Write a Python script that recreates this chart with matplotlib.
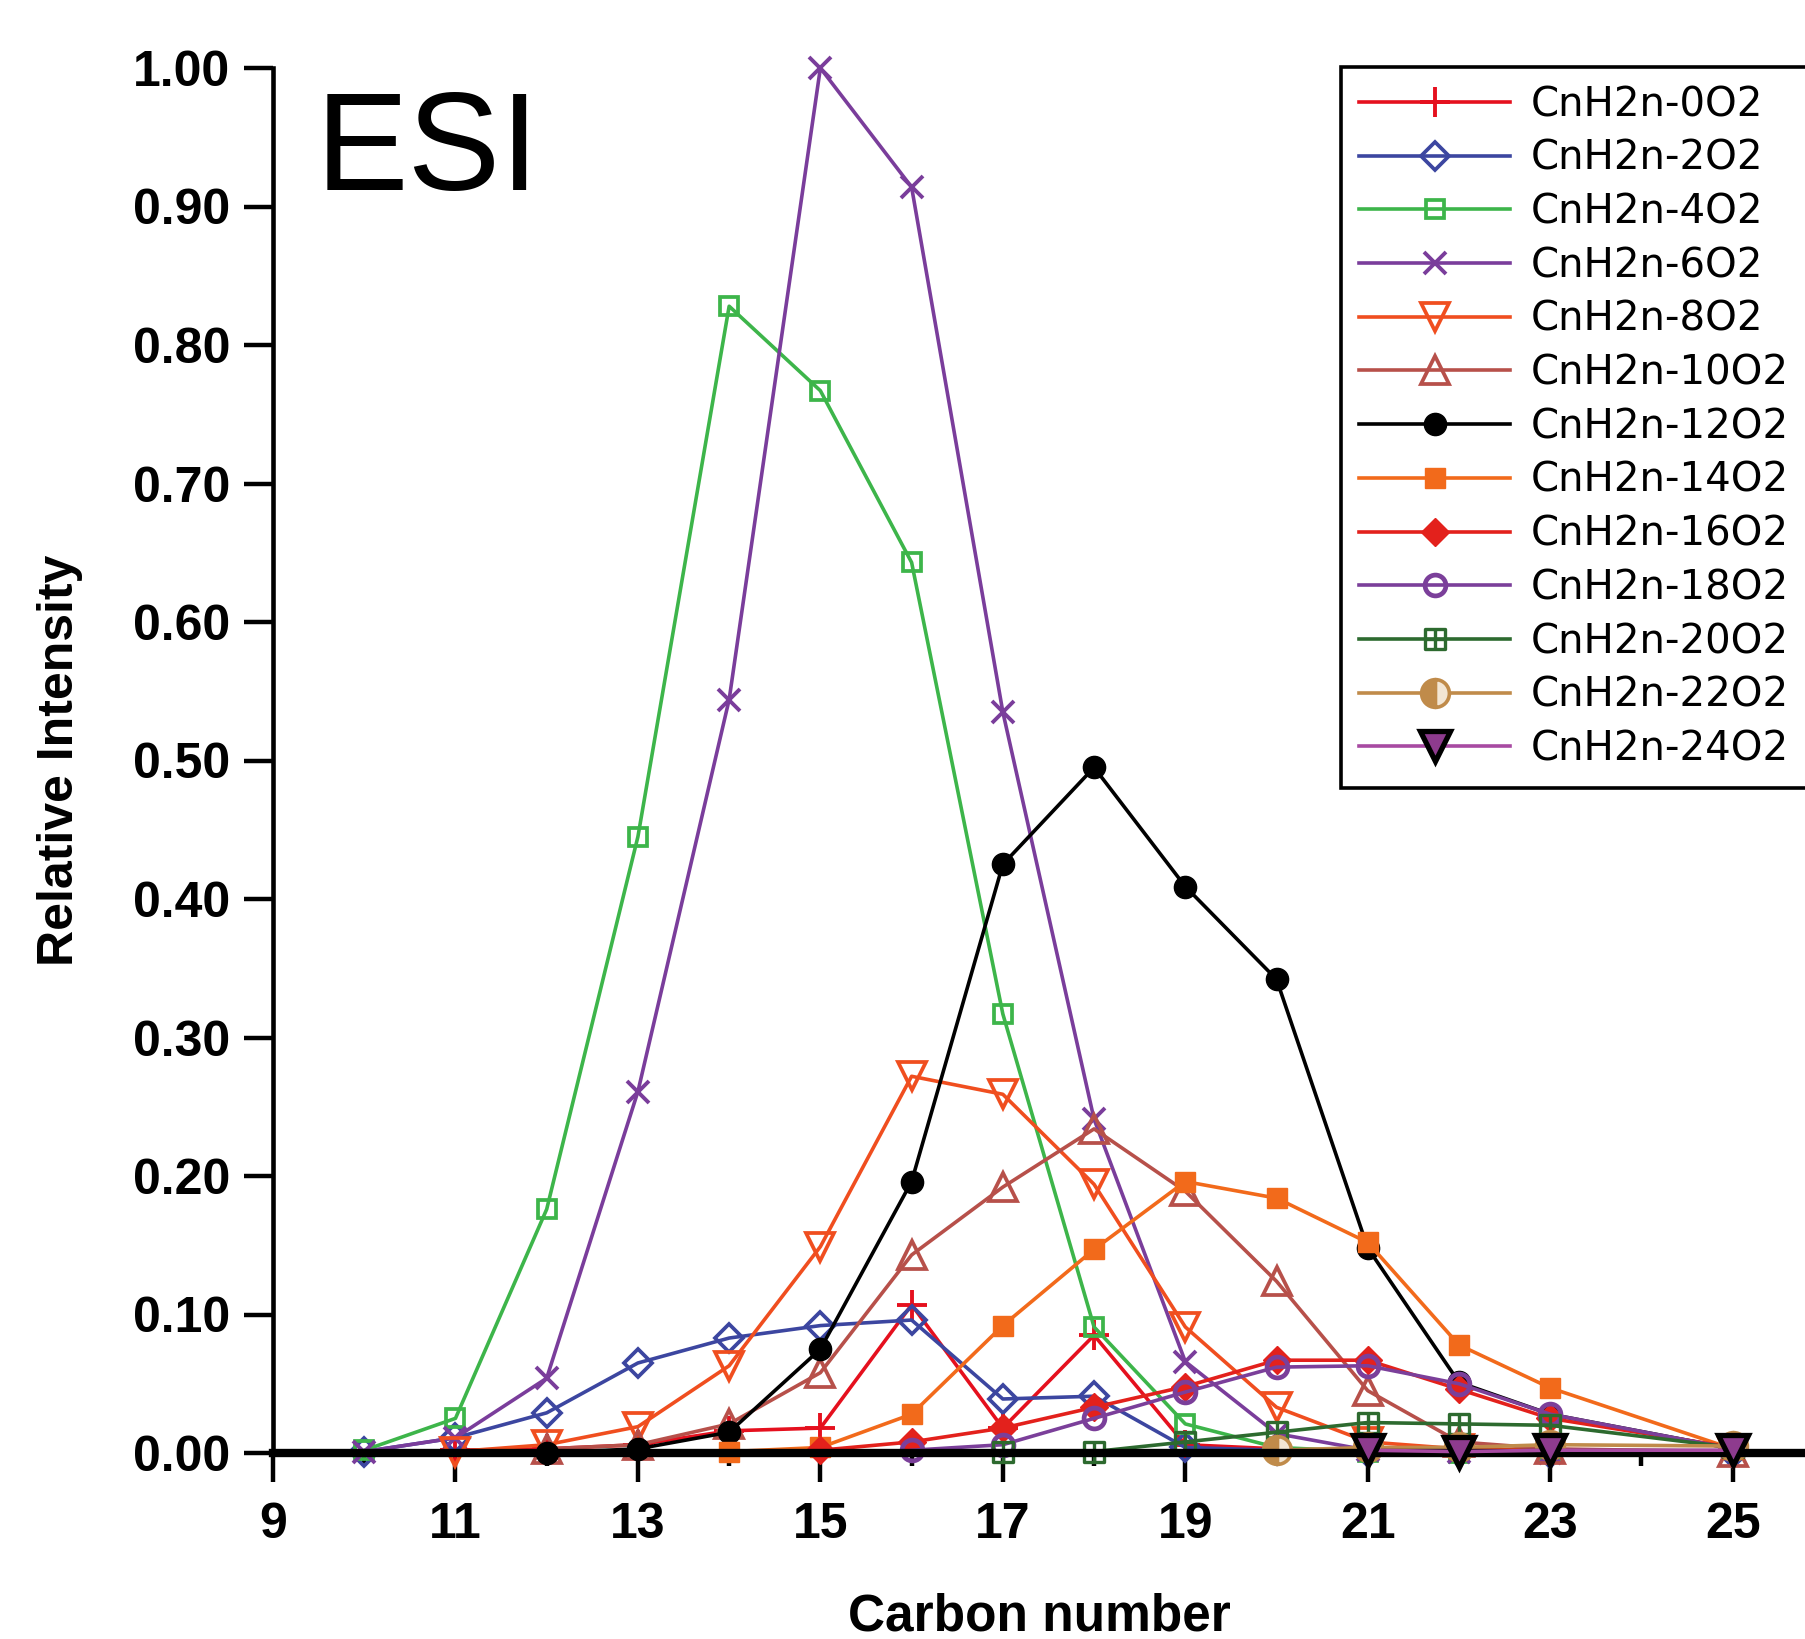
import numpy as np
import matplotlib
matplotlib.use("Agg")
import matplotlib.pyplot as plt
from matplotlib.path import Path

# ── Data ──────────────────────────────────────────────────────────────────────
SERIES_NAMES = [
    "CnH2n-0O2", "CnH2n-2O2", "CnH2n-4O2", "CnH2n-6O2", "CnH2n-8O2",
    "CnH2n-10O2", "CnH2n-12O2", "CnH2n-14O2", "CnH2n-16O2", "CnH2n-18O2",
    "CnH2n-20O2", "CnH2n-22O2", "CnH2n-24O2",
]

x_0 = [11, 12, 13, 14, 15, 16, 17, 18, 19, 20, 21, 22, 23, 25]
y_0 = [0.002, 0.003, 0.006, 0.016, 0.018, 0.107, 0.018, 0.085, 0.006, 0.003,
       0.002, 0.001, 0.001, 0.001]

x_2 = [10, 11, 12, 13, 14, 15, 16, 17, 18, 19, 20, 21, 22, 23, 25]
y_2 = [0.001, 0.011, 0.029, 0.065, 0.083, 0.092, 0.096, 0.039, 0.041, 0.004,
       0.002, 0.001, 0.001, 0.0, 0.0]

x_4 = [10, 11, 12, 13, 14, 15, 16, 17, 18, 19, 20, 21, 22, 23]
y_4 = [0.002, 0.025, 0.176, 0.445, 0.828, 0.767, 0.643, 0.317, 0.091, 0.021,
       0.004, 0.001, 0.0, 0.0]

x_6 = [10, 11, 12, 13, 14, 15, 16, 17, 18, 19, 20, 21, 22, 23]
y_6 = [0.001, 0.011, 0.054, 0.261, 0.544, 1.0, 0.914, 0.535, 0.241, 0.066,
       0.014, 0.002, 0.001, 0.0]

x_8 = [11, 12, 13, 14, 15, 16, 17, 18, 19, 20, 21, 22, 23, 25]
y_8 = [0.001, 0.006, 0.019, 0.063, 0.149, 0.272, 0.259, 0.194, 0.091, 0.033,
       0.008, 0.003, 0.002, 0.001]

x_10 = [12, 13, 14, 15, 16, 17, 18, 19, 20, 21, 22, 23, 25]
y_10 = [0.003, 0.006, 0.021, 0.058, 0.143, 0.192, 0.234, 0.189, 0.124, 0.045,
        0.008, 0.003, 0.001]

x_12 = [12, 13, 14, 15, 16, 17, 18, 19, 20, 21, 22, 23, 25]
y_12 = [0.0, 0.003, 0.015, 0.075, 0.196, 0.425, 0.495, 0.409, 0.342, 0.148,
        0.051, 0.028, 0.003]

x_14 = [14, 15, 16, 17, 18, 19, 20, 21, 22, 23, 25]
y_14 = [0.001, 0.004, 0.028, 0.092, 0.147, 0.196, 0.184, 0.152, 0.078, 0.047,
        0.003]

x_16 = [15, 16, 17, 18, 19, 20, 21, 22, 23, 25]
y_16 = [0.002, 0.008, 0.018, 0.033, 0.048, 0.067, 0.067, 0.046, 0.025, 0.004]

x_18 = [16, 17, 18, 19, 20, 21, 22, 23, 25]
y_18 = [0.002, 0.006, 0.025, 0.044, 0.062, 0.063, 0.050, 0.028, 0.003]

x_20 = [17, 18, 19, 20, 21, 22, 23, 25]
y_20 = [0.001, 0.001, 0.008, 0.015, 0.022, 0.021, 0.020, 0.004]

x_22 = [20, 21, 22, 23, 25]
y_22 = [0.002, 0.004, 0.004, 0.006, 0.005]

x_24 = [21, 22, 23, 25]
y_24 = [0.002, 0.001, 0.002, 0.002]

X_MAJOR = [9, 11, 13, 15, 17, 19, 21, 23, 25]
X_MINOR = [10, 12, 14, 16, 18, 20, 22, 24]
Y_TICKS = [0.0, 0.1, 0.2, 0.3, 0.4, 0.5, 0.6, 0.7, 0.8, 0.9, 1.0]

# ── Styles ────────────────────────────────────────────────────────────────────
# square with a cross inside (20O2 marker)
SQ_PLUS = Path(
    [(-1, -1), (1, -1), (1, 1), (-1, 1), (-1, -1),
     (0, -1), (0, 1), (-1, 0), (1, 0)],
    [Path.MOVETO, Path.LINETO, Path.LINETO, Path.LINETO, Path.CLOSEPOLY,
     Path.MOVETO, Path.LINETO, Path.MOVETO, Path.LINETO],
)

STYLES = [
    dict(color="#e5101e", marker="+", ms=21, mew=2.8),
    dict(color="#3c46a0", marker="D", ms=14, mfc="none", mew=2.7),
    dict(color="#3db54a", marker="s", ms=13, mfc="none", mew=2.7),
    dict(color="#7a3d9b", marker="x", ms=16, mew=2.8),
    dict(color="#f04e1f", marker="v", ms=20, mfc="none", mew=2.7),
    dict(color="#b7504a", marker="^", ms=20, mfc="none", mew=2.7),
    dict(color="#000000", marker="o", ms=16),
    dict(color="#f26a1b", marker="s", ms=14),
    dict(color="#e3211c", marker="D", ms=14),
    dict(color="#7b3f9a", marker="o", ms=15, mfc="none", mew=3.4),
    dict(color="#2d6a2f", marker=SQ_PLUS, ms=14, mfc="none", mew=2.4),
    dict(color="#c08b4a", marker="o", ms=20, fillstyle="left",
         mfc="#c08b4a", mfcalt="#f3e6d4", mew=2.6),
    dict(color="#a84aa2", marker="v", ms=21, mfc="#8e3b8e", mec="black",
         mew=3.8),
]

XS = [x_0, x_2, x_4, x_6, x_8, x_10, x_12, x_14, x_16, x_18, x_20, x_22, x_24]
YS = [y_0, y_2, y_4, y_6, y_8, y_10, y_12, y_14, y_16, y_18, y_20, y_22, y_24]

FONT = "Liberation Sans"


def main():
    W, H = 1805, 1639
    fig = plt.figure(figsize=(W / 100, H / 100), dpi=100)
    fig.patch.set_facecolor("white")

    left_px, right_px = 273, W
    top_px, zero_px = 68, 1453
    unit_px = 91.23
    ax = fig.add_axes([left_px / W, 1 - zero_px / H,
                       (right_px - left_px) / W, (zero_px - top_px) / H])

    for name, xs, ys, st in zip(SERIES_NAMES, XS, YS, STYLES):
        st = dict(st)
        color = st.pop("color")
        z = 3.2 if name.endswith("24O2") else 2
        ax.plot(xs, ys, color=color, lw=2.6, label=name, clip_on=False,
                zorder=z, **st)

    ax.set_xlim(9, 9 + (right_px - left_px) / unit_px)
    ax.set_ylim(0, 1.0)

    ax.spines["top"].set_visible(False)
    ax.spines["right"].set_visible(False)
    ax.spines["left"].set_linewidth(3.3)
    ax.spines["bottom"].set_linewidth(6)
    ax.spines["bottom"].set_zorder(3)
    ax.spines["left"].set_zorder(3)

    ax.set_xticks(X_MAJOR)
    ax.set_xticks(X_MINOR, minor=True)
    ax.set_yticks(Y_TICKS)
    ax.set_yticklabels([f"{v:.2f}" for v in Y_TICKS])
    ax.tick_params(axis="both", which="major", direction="out", length=21,
                   width=3.2, labelsize=36, pad=10)
    ax.tick_params(axis="x", which="major", pad=14)
    ax.tick_params(axis="x", which="minor", direction="out", length=9,
                   width=3.2)
    for lab in ax.get_xticklabels() + ax.get_yticklabels():
        lab.set_fontfamily(FONT)
        lab.set_fontweight("bold")

    ax.set_xlabel("Carbon number", fontsize=37, fontweight="bold",
                  family=FONT)
    ax.set_ylabel("Relative Intensity", fontsize=36, fontweight="bold",
                  family=FONT)
    ax.xaxis.set_label_coords(0.5, -0.101)
    ax.yaxis.set_label_coords(-0.124, 0.5)

    ax.text(9.47, 0.912, "ESI", fontsize=100, family=FONT, va="baseline",
            ha="left")

    leg = ax.legend(
        loc="upper left",
        bbox_to_anchor=(1341 / W, 1 - 67 / H),
        bbox_transform=fig.transFigure,
        borderaxespad=0,
        prop={"family": "DejaVu Sans", "size": 29},
        handlelength=3.75,
        handletextpad=0.5,
        labelspacing=0.34,
        borderpad=0.45,
        frameon=True,
        fancybox=False,
        framealpha=1,
        edgecolor="black",
    )
    leg.get_frame().set_linewidth(2.6)

    fig.savefig("out.png", dpi=100, facecolor="white")
    plt.close(fig)


if __name__ == "__main__":
    main()
